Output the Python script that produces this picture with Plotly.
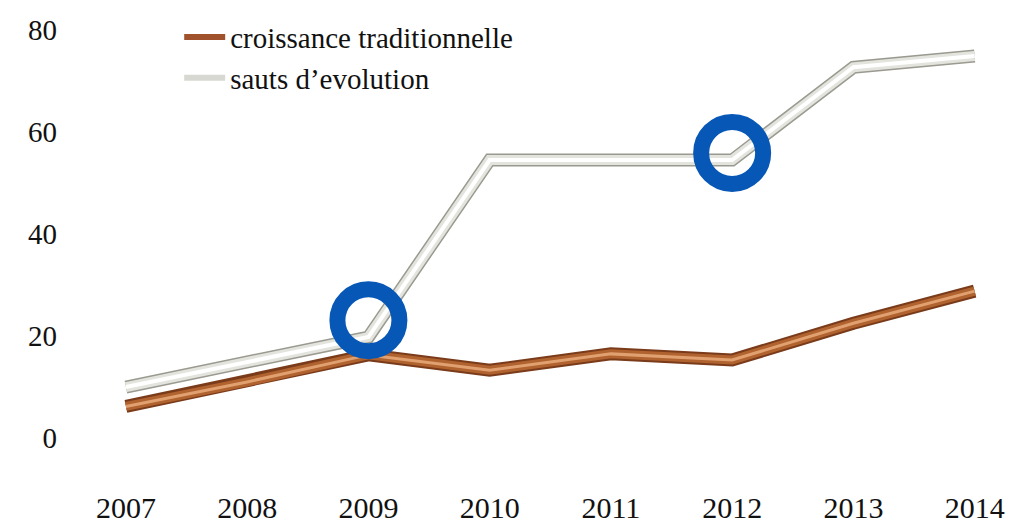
import plotly.graph_objects as go

years = [2007, 2008, 2009, 2010, 2011, 2012, 2013, 2014]
croissance = [6.2, 11.0, 16.3, 13.3, 16.5, 15.3, 22.5, 28.8]
sauts = [10.0, 14.9, 19.8, 54.5, 54.5, 54.5, 72.7, 74.9]
highlight_years = [2009, 2012]
highlight_vals = [23.1, 55.9]
y_ticks = [0, 20, 40, 60, 80]

FONT = "Liberation Serif"
fig = go.Figure()

# brown tube (layers for a 3D look)
for w, c in [(13, "#7a3b1a"), (9, "#b0622f"), (3, "#e0a070")]:
    fig.add_trace(go.Scatter(x=years, y=croissance, mode="lines", showlegend=False,
                             line=dict(color=c, width=w), hoverinfo="skip"))
fig.add_trace(go.Scatter(x=[None], y=[None], mode="lines", name="croissance traditionnelle",
                         line=dict(color="#a0522d", width=6)))

# white tube
for w, c in [(13, "#9a9a90"), (10, "#e4e4de"), (4, "#ffffff")]:
    fig.add_trace(go.Scatter(x=years, y=sauts, mode="lines", showlegend=False,
                             line=dict(color=c, width=w), hoverinfo="skip"))
fig.add_trace(go.Scatter(x=[None], y=[None], mode="lines", name="sauts d\u2019evolution",
                         line=dict(color="#d8d8d2", width=6)))

# blue highlight rings
fig.add_trace(go.Scatter(x=highlight_years, y=highlight_vals, mode="markers", showlegend=False,
                         marker=dict(symbol="circle-open", size=62, color="#0757b6",
                                     line=dict(color="#0757b6", width=16)),
                         hoverinfo="skip"))

fig.update_layout(
    width=1013, height=526,
    margin=dict(l=67, r=10, t=22, b=47, autoexpand=False),
    paper_bgcolor="white", plot_bgcolor="white",
    font=dict(family=FONT, size=26, color="#111111"),
    showlegend=True,
    legend=dict(xref="container", yref="container", x=0.169, y=0.993,
                xanchor="left", yanchor="top",
                bgcolor="rgba(0,0,0,0)", font=dict(family=FONT, size=29),
                tracegroupgap=0, itemwidth=41),
    xaxis=dict(range=[2006.58, 2014.30], tickvals=years, ticktext=[str(y) for y in years],
               showgrid=False, zeroline=False, showline=False, ticks="",
               tickfont=dict(family=FONT, size=30)),
    yaxis=dict(range=[-9.6, 80], tickvals=y_ticks, ticktext=[str(v) for v in y_ticks],
               showgrid=False, zeroline=False, showline=False, ticks="",
               ticklabelstandoff=17, tickfont=dict(family=FONT, size=29)),
)

fig.write_html("out.html")
